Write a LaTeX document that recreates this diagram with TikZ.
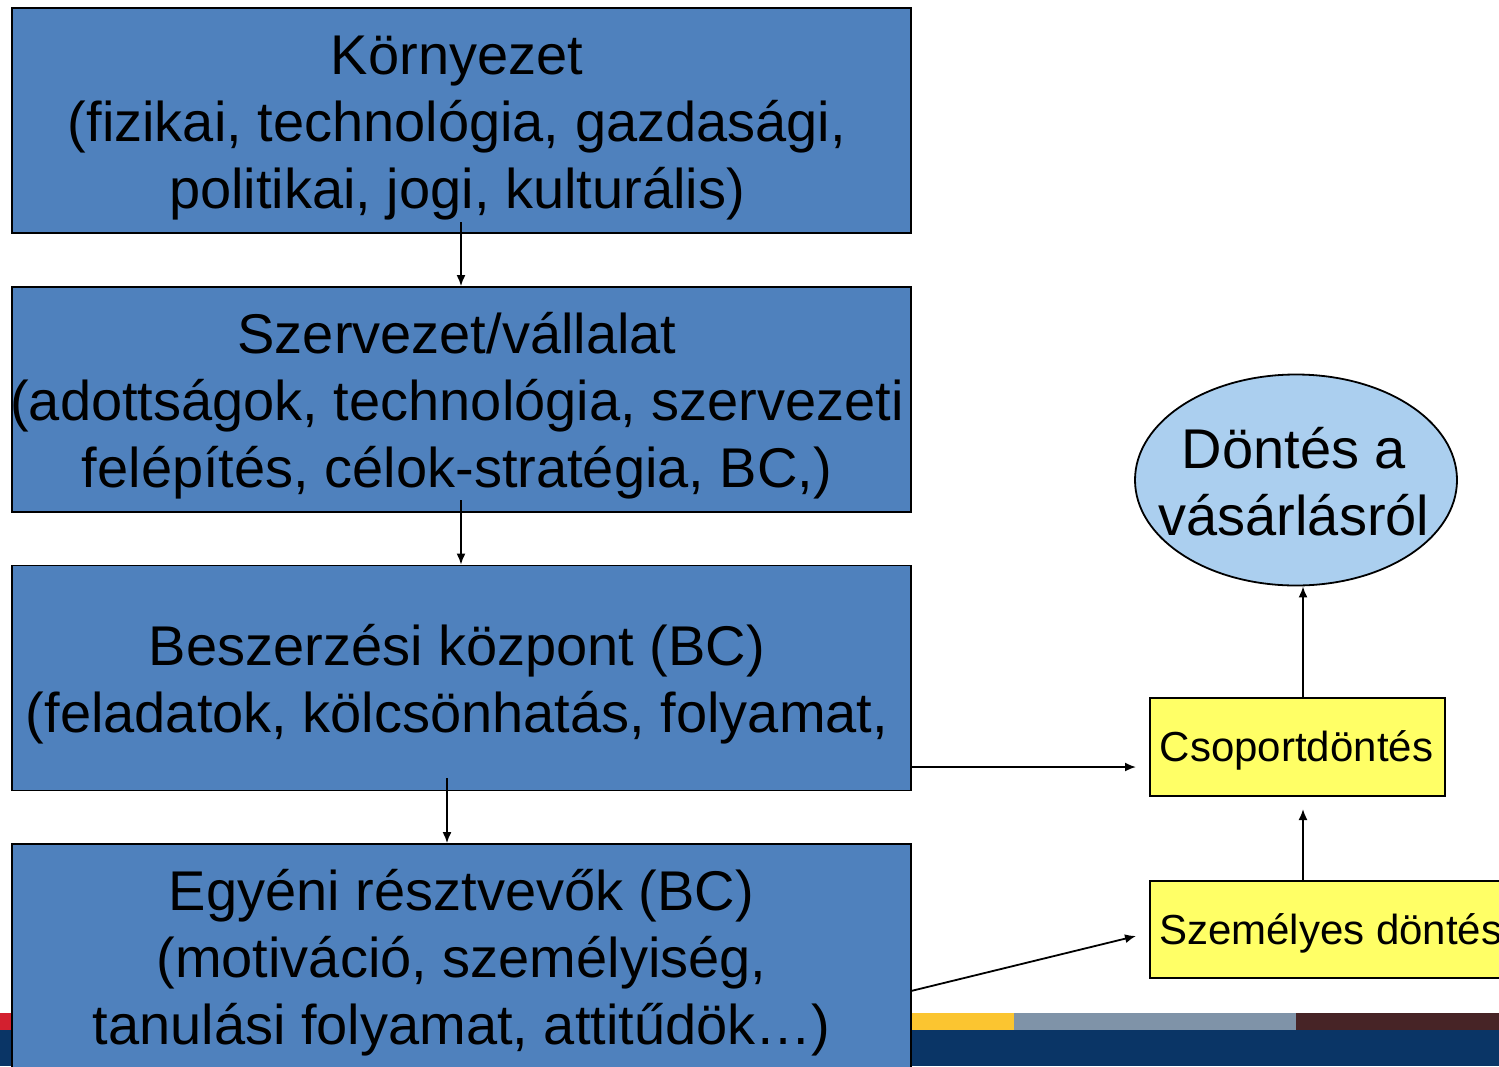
\documentclass[tikz,border=0pt]{standalone}
\usepackage{fontspec}
\setmainfont{Liberation Sans}
\usetikzlibrary{arrows.meta,shapes.geometric}
\definecolor{boxblue}{HTML}{4F81BD}
\definecolor{ellblue}{HTML}{ABCFEF}
\definecolor{lightyel}{HTML}{FFFF66}
\definecolor{barred}{HTML}{D3202F}
\definecolor{baryel}{HTML}{FBC530}
\definecolor{bargrey}{HTML}{7F93A8}
\definecolor{barbrown}{HTML}{472426}
\definecolor{barnavy}{HTML}{0A3566}
\tikzset{
  bigbox/.style={draw=black, line width=1.8pt, fill=boxblue, minimum width=899pt, minimum height=225pt, inner sep=0pt},
  bigtext/.style={align=center, font=\fontsize{56}{67}\selectfont, inner sep=0pt},
  yelbox/.style={draw=black, line width=1.8pt, fill=lightyel, inner sep=0pt, anchor=north west},
  smalltext/.style={font=\fontsize{42}{50}\selectfont, inner sep=0pt},
  conn/.style={line width=1.8pt, -{Latex[length=11pt,width=9pt]}}
}
\begin{document}
\begin{tikzpicture}[x=1pt,y=-1pt]
\useasboundingbox (0,0) rectangle (1499,1066);
% bottom bars
\fill[barred] (0,1013) rectangle (910,1030);
\fill[baryel] (910,1013) rectangle (1014,1030);
\fill[bargrey] (1014,1013) rectangle (1296,1030);
\fill[barbrown] (1296,1013) rectangle (1499,1030);
\fill[barnavy] (0,1030) rectangle (1499,1066);
% big boxes
\node[bigbox] (b1) at (461.5,120.5) {};
\node[bigtext] (t1) at (457,128) {Környezet\\(fizikai, technológia, gazdasági,\\politikai, jogi, kulturális)};
\node[bigbox] (b2) at (461.5,399.5) {};
\node[bigtext] (t2) at (457,406) {Szervezet/vállalat\\(adottságok, technológia, szervezeti\\felépítés, célok-stratégia, BC,)};
\node[bigbox] (b3) at (461.5,678) {};
\node[bigtext] (t3) at (457,684) {Beszerzési központ (BC)\\(feladatok, kölcsönhatás, folyamat,};
\node[bigbox] (b4) at (461.5,956.5) {};
\node[bigtext] (t4) at (461.5,963) {Egyéni résztvevők (BC)\\(motiváció, személyiség,\\tanulási folyamat, attitűdök…)};
% ellipse
\node[ellipse, draw=black, line width=1.8pt, fill=ellblue, minimum width=322pt, minimum height=211pt, inner sep=0pt] (e) at (1296,480) {};
\node[bigtext] (te) at (1294,482) {Döntés a\\vásárlásról};
% yellow boxes
\node[yelbox, minimum width=295pt, minimum height=98pt] (cs) at (1149,697) {};
\node[smalltext] (tcs) at (1296.5,750) {Csoportdöntés};
\node[yelbox, minimum width=380pt, minimum height=97pt] (sz) at (1149,880) {};
\node[smalltext, anchor=west] (tsz) at (1159,933) {Személyes döntés};
% connectors
\coordinate (c1) at (461,222);
\coordinate (c2) at (461,500);
\coordinate (c3) at (447,778);
\draw[conn] (c1) -- (b2.north -| c1);
\draw[conn] (c2) -- (b3.north -| c2);
\draw[conn] (c3) -- (b4.north -| c3);
\coordinate (a3) at (911,767);
\coordinate (a3e) at (1136,767);
\draw[conn] (a3) -- (a3e);
\coordinate (a4) at (911,991);
\coordinate (a4e) at (1136,936);
\draw[conn] (a4) -- (a4e);
\coordinate (s1) at (1303,880);
\coordinate (s1e) at (1303,809);
\draw[conn] (s1) -- (s1e);
\coordinate (c5) at (1303,697);
\draw[conn] (c5) -- (e.south -| c5);
\end{tikzpicture}
\end{document}
